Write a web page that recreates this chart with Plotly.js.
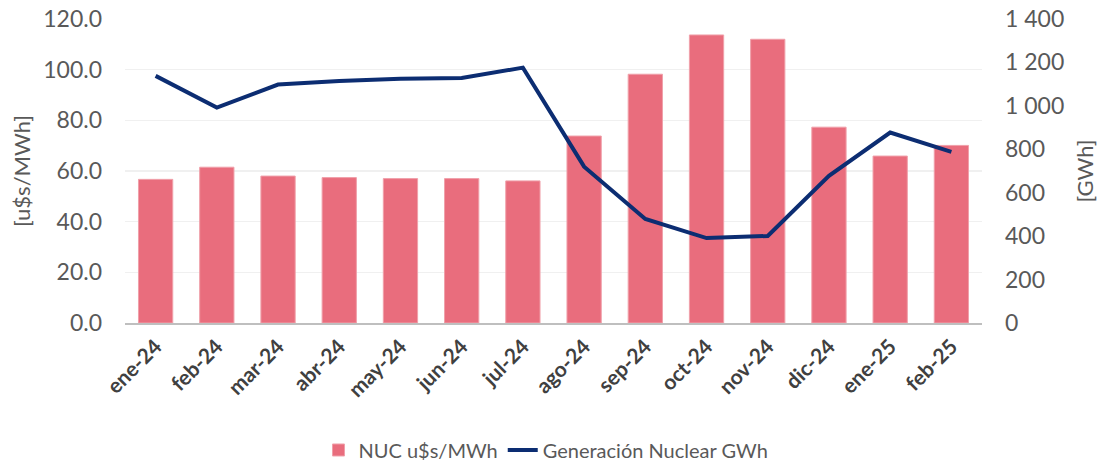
<!DOCTYPE html>
<html>
<head>
<meta charset="utf-8">
<script src="https://cdn.plot.ly/plotly-3.0.1.min.js"></script>
<style>
  html, body { margin: 0; padding: 0; background: #fff; }
  #chart { width: 1103px; height: 462px; }
</style>
</head>
<body>
<div id="chart"></div>
<script>
// months
var months = ["ene-24", "feb-24", "mar-24", "abr-24", "may-24", "jun-24", "jul-24",
              "ago-24", "sep-24", "oct-24", "nov-24", "dic-24", "ene-25", "feb-25"];

// NUC price (u$s/MWh), left axis
var nucPrice = [56.7, 61.5, 58.0, 57.4, 57.0, 57.0, 56.1, 73.8, 98.2, 113.7, 112.0, 77.3, 65.9, 70.1];

// nuclear generation (GWh), right axis
var nucGen = [1138, 992, 1098, 1115, 1125, 1128, 1176, 720, 479, 391, 401, 678, 877, 788];

var barTrace = {
  x: months,
  y: nucPrice,
  type: "bar",
  name: "NUC u$s/MWh",
  marker: { color: "#E96D7D", line: { color: "#F0A0AA", width: 1 } },
  yaxis: "y"
};

var lineTrace = {
  x: months,
  y: nucGen,
  type: "scatter",
  mode: "lines",
  name: "Generación Nuclear GWh",
  line: { color: "#0C2D72", width: 4 },
  yaxis: "y2"
};

var fontFam = "Lato, 'Open Sans', sans-serif";
var tickFont = { family: fontFam, size: 23, color: "#595959" };

var layout = {
  width: 1103,
  height: 462,
  margin: { l: 125, r: 121, t: 19, b: 139 },
  paper_bgcolor: "#fff",
  plot_bgcolor: "#fff",
  separators: ". ",
  bargap: 0.44,
  showlegend: true,
  legend: {
    orientation: "h",
    xref: "container", yref: "container",
    x: 0.495, xanchor: "center",
    y: 0.026, yanchor: "middle",
    font: { family: fontFam, size: 20, color: "#595959" },
    itemwidth: 30,
    traceorder: "normal"
  },
  xaxis: {
    type: "category",
    automargin: false,
    tickangle: -45,
    tickfont: { family: fontFam, size: 21, color: "#404040", weight: 700 },
    showgrid: false,
    showline: true,
    linecolor: "#BFBFBF",
    linewidth: 2,
    ticks: "",
    ticklabelstandoff: 1,
    fixedrange: true
  },
  yaxis: {
    automargin: false,
    range: [0, 120],
    dtick: 20,
    tickformat: ".1f",
    tickfont: tickFont,
    gridcolor: "#F0F0F0",
    gridwidth: 1.5,
    zeroline: false,
    ticks: "",
    ticklabelstandoff: 22,
    title: { text: "[u$s/MWh]", font: { family: fontFam, size: 22, color: "#595959" }, standoff: 6 }
  },
  yaxis2: {
    automargin: false,
    overlaying: "y",
    side: "right",
    range: [0, 1400],
    dtick: 200,
    tickformat: ",d",
    tickfont: tickFont,
    showgrid: false,
    zeroline: false,
    ticks: "",
    ticklabelstandoff: 22,
    title: { text: "[GWh]", font: { family: fontFam, size: 22, color: "#595959" }, standoff: 14 }
  }
};

Plotly.newPlot("chart", [barTrace, lineTrace], layout, { displayModeBar: false, staticPlot: true });
</script>
</body>
</html>
